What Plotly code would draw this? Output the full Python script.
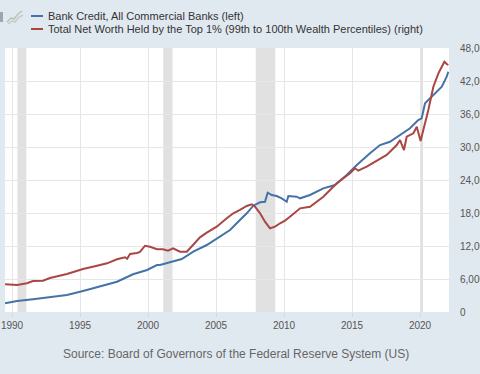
import plotly.graph_objects as go

# Bank Credit, All Commercial Banks (billions, left axis)
bank_years = [1989.49, 1990.37, 1991.54, 1992.79, 1994.04, 1995.22, 1996.47, 1997.72, 1998.90,
              1999.93, 2000.66, 2000.88, 2002.48, 2003.33, 2004.32, 2005.29, 2006.03, 2006.76,
              2007.26, 2007.74, 2008.24, 2008.60, 2008.80, 2009.10, 2009.46, 2009.83, 2010.20,
              2010.32, 2010.93, 2011.18, 2011.91, 2012.89, 2013.75, 2014.61, 2015.35, 2016.32,
              2017.06, 2017.79, 2018.53, 2019.26, 2019.87, 2020.12, 2020.37, 2020.74, 2021.23,
              2021.60, 2021.96, 2022.08]
bank_credit = [2527, 2667, 2770, 2891, 3030, 3273, 3533, 3836, 4285,
               4545, 4848, 4848, 5212, 5654, 6060, 6563, 6969, 7575,
               7981, 8442, 8650, 8684, 9230, 9090, 9030, 8890, 8684,
               9030, 8988, 8890, 9090, 9496, 9696, 10302, 10908, 11617,
               12120, 12320, 12726, 13132, 13635, 13738, 14647, 14950, 15350,
               15653, 16259, 16562]

# Total Net Worth Held by the Top 1% (millions, right axis)
top1_years = [1989.49, 1990.37, 1991.10, 1991.54, 1992.28, 1992.79, 1994.04, 1995.22, 1996.25,
              1996.99, 1997.72, 1998.31, 1998.46, 1998.68, 1999.19, 1999.41, 1999.78, 2000.15,
              2000.66, 2001.10, 2001.47, 2001.84, 2002.35, 2002.85, 2003.31, 2003.82, 2004.32,
              2005.05, 2005.79, 2006.27, 2006.76, 2007.26, 2007.63, 2007.87, 2008.24, 2008.60,
              2008.97, 2009.34, 2009.71, 2010.07, 2010.68, 2011.18, 2011.91, 2012.89, 2013.88,
              2014.85, 2015.22, 2015.46, 2016.08, 2016.82, 2017.55, 2018.29, 2018.53, 2018.82,
              2019.02, 2019.51, 2019.76, 2020.04, 2020.37, 2020.61, 2020.98, 2021.35, 2021.60,
              2021.79, 2021.96, 2022.08]
top1_net_worth = [5040000, 4910000, 5220000, 5640000, 5690000, 6180000, 6910000, 7820000, 8420000,
                  8850000, 9580000, 9950000, 9690000, 10550000, 10730000, 10910000, 12050000, 11870000,
                  11400000, 11400000, 11150000, 11580000, 10960000, 10960000, 12180000, 13580000, 14420000,
                  15510000, 17040000, 17950000, 18550000, 19270000, 19580000, 19150000, 17950000, 16420000,
                  15220000, 15510000, 16130000, 16600000, 17820000, 18850000, 19150000, 20960000, 23400000,
                  25220000, 26130000, 25690000, 26420000, 27450000, 28550000, 30360000, 31270000, 29450000,
                  31870000, 32490000, 33690000, 31090000, 34310000, 36730000, 40960000, 43400000, 44600000,
                  45510000, 45090000, 44910000]

recessions = [(1990.40, 1991.05), (2001.12, 2001.80), (2007.92, 2009.36), (2020.02, 2020.22)]
x_ticks = [1990, 1995, 2000, 2005, 2010, 2015, 2020]
y2_ticks = [0, 6000000, 12000000, 18000000, 24000000, 30000000, 36000000, 42000000, 48000000]
y2_labels = ["0" if v == 0 else f"{v:,}" for v in y2_ticks]

series_names = ["Bank Credit, All Commercial Banks (left)",
                "Total Net Worth Held by the Top 1% (99th to 100th Wealth Percentiles) (right)"]
source_text = "Source: Board of Governors of the Federal Reserve System (US)"

BLUE = "#4572a7"
RED = "#aa4643"
FONT = "Liberation Sans, Arial, sans-serif"

PL, PR, PT, PB = 5, 449, 48, 312  # plot box in pixels


def px(x):
    return (x - PL) / (PR - PL)


def py(y):
    return (PB - y) / (PB - PT)


fig = go.Figure()
fig.add_trace(go.Scatter(x=bank_years, y=bank_credit, mode="lines",
                         line=dict(color=BLUE, width=2), yaxis="y", name=series_names[0]))
fig.add_trace(go.Scatter(x=top1_years, y=top1_net_worth, mode="lines",
                         line=dict(color=RED, width=2), yaxis="y2", name=series_names[1]))

shapes = []
for a, b in recessions:
    shapes.append(dict(type="rect", xref="x", yref="paper", x0=a, x1=b, y0=0, y1=1,
                       fillcolor="#e1e1e1", line=dict(width=0), layer="below"))

# faint chart icon at top-left (partly cut off)
def path(points):
    s = "M " + " L ".join(f"{px(a):.5f},{py(b):.5f}" for a, b in points)
    return s

shapes.append(dict(type="rect", xref="paper", yref="paper", x0=px(-2), x1=px(3), y0=py(22), y1=py(12),
                   fillcolor="#9aa6b0", line=dict(width=0)))
shapes.append(dict(type="path", xref="paper", yref="paper",
                   path=path([(7, 22), (11, 18), (14, 19), (18, 14), (22, 11)]),
                   line=dict(color="#b7c2b4", width=1.5)))
shapes.append(dict(type="path", xref="paper", yref="paper",
                   path=path([(8, 24), (12, 21), (15, 22), (19, 17), (23, 15)]),
                   line=dict(color="#c4cdc2", width=1.5)))

fig.update_layout(
    width=480, height=374,
    margin=dict(l=PL, r=480 - PR, t=PT, b=374 - PB),
    paper_bgcolor="#e1e9f0", plot_bgcolor="#ffffff",
    showlegend=False,
    font=dict(family=FONT, size=11, color="#555555"),
    xaxis=dict(range=[1989.485, 2022.13], tickvals=x_ticks, showgrid=True, automargin=False,
               gridcolor="#e6e6e6", gridwidth=1, zeroline=False,
               ticks="outside", ticklen=4, tickcolor="#d0d8e0",
               tickfont=dict(size=10, color="#555555"), showline=False),
    yaxis=dict(range=[2000, 18000], visible=False, showgrid=False, zeroline=False, automargin=False),
    yaxis2=dict(range=[0, 48000000], overlaying="y", side="right", tickvals=y2_ticks, automargin=False,
                ticktext=y2_labels, showgrid=True, gridcolor="#e6e6e6", zeroline=False,
                tickfont=dict(size=10, color="#555555"), ticklabelstandoff=10, showline=False),
    shapes=shapes,
)

# legend drawn manually
legend_y = [16, 29]
for i, (name, col) in enumerate(zip(series_names, [BLUE, RED])):
    fig.add_shape(type="line", xref="paper", yref="paper",
                  x0=px(31), x1=px(43), y0=py(legend_y[i]), y1=py(legend_y[i]),
                  line=dict(color=col, width=2))
    fig.add_annotation(xref="paper", yref="paper", x=px(46), y=py(legend_y[i]),
                       text=name, showarrow=False, xanchor="left", yanchor="middle",
                       font=dict(size=11, color="#333333", family=FONT))

fig.add_annotation(xref="paper", yref="paper", x=px(236), y=py(354),
                   text=source_text, showarrow=False, xanchor="center", yanchor="middle",
                   font=dict(size=12, color="#666666", family=FONT))

fig.write_html("out.html", config={"displayModeBar": False},
               post_script="document.body.style.margin='0';")
